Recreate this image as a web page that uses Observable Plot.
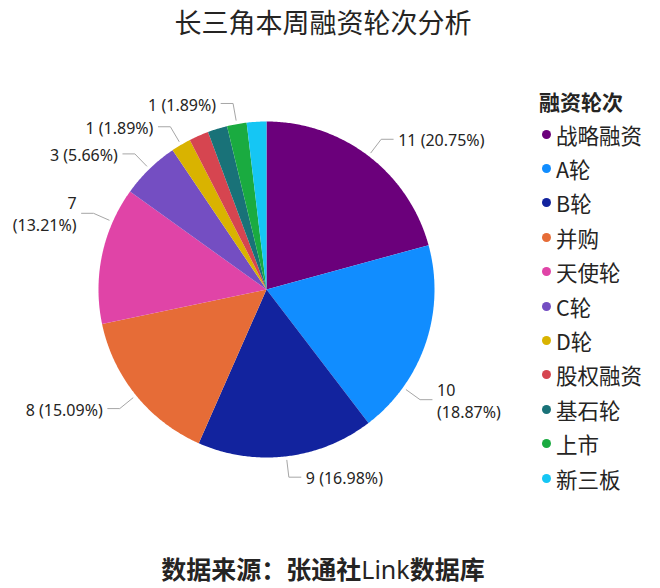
<!DOCTYPE html>
<html><head><meta charset="utf-8">
<script src="https://cdn.jsdelivr.net/npm/d3@7"></script>
<script src="https://cdn.jsdelivr.net/npm/@observablehq/plot@0.6"></script>
<style>
body{margin:0;background:#fff;}
#wrap{position:relative;width:660px;height:588px;overflow:hidden;color:#252423;font-family:"Noto Sans","Noto Sans CJK SC",sans-serif;}
#title{height:50px;line-height:44px;text-align:center;font-size:27px;font-family:"Noto Sans CJK SC",sans-serif;padding-right:14px;}
#chart{height:500px;}
#caption{height:38px;line-height:36px;text-align:center;font-size:25px;font-weight:bold;font-family:"Noto Sans CJK SC",sans-serif;padding-right:14px;}
#caption .lat{font-weight:400;font-family:"Noto Sans",sans-serif;}
#legend{position:absolute;left:539px;top:86px;font-family:"Noto Sans CJK SC",sans-serif;}
#legend .lt{height:31px;line-height:31px;font-size:21px;font-weight:bold;}
#legend .it{height:34.4px;display:flex;align-items:center;font-size:21.5px;white-space:nowrap;}
#legend .dot{width:9px;height:9px;border-radius:50%;margin-left:3px;margin-right:5px;flex:none;}
</style></head><body>
<div id="wrap"><div id="title"></div><div id="chart"></div><div id="caption"></div><div id="legend"></div></div>
<script>
const titleText = "长三角本周融资轮次分析";
const captionParts = ["数据来源：张通社", "Link", "数据库"];
const legendTitle = "融资轮次";
const categories = ["战略融资","A轮","B轮","并购","天使轮","C轮","D轮","股权融资","基石轮","上市","新三板"];
const counts = [11,10,9,8,7,3,1,1,1,1,1];
const colors = ["#6B007B","#118DFF","#12239E","#E66C37","#E044A7","#744EC2","#D9B300","#D64550","#197278","#1AAB40","#15C6F4"];

document.getElementById("title").textContent = titleText;
document.getElementById("caption").innerHTML = captionParts[0] + '<span class="lat">' + captionParts[1] + '</span>' + captionParts[2];

// legend
const lg = document.getElementById("legend");
const lt = document.createElement("div"); lt.className = "lt"; lt.textContent = legendTitle; lg.appendChild(lt);
categories.forEach((c, i) => {
  const row = document.createElement("div"); row.className = "it";
  const dot = document.createElement("span"); dot.className = "dot"; dot.style.background = colors[i];
  const tx = document.createElement("span"); tx.textContent = c;
  row.appendChild(dot); row.appendChild(tx); lg.appendChild(row);
});

// geometry (layout constants)
const W = 660, H = 500, cx = 266, cy = 239, R = 168;
const R0 = R + 4, R1 = R + 21, L2 = 12, GAP = 5;
const FS = 16, LH = 22;
const bounds = {left: 10, right: 512, top: 5, bottom: 495};
const fontStr = FS + "px 'Noto Sans', 'Noto Sans CJK SC', sans-serif";

const total = d3.sum(counts);
const data = categories.map((c, i) => ({cat: c, count: counts[i]}));
const arcs = d3.pie().sort(null).value(d => d.count).startAngle(0).endAngle(2 * Math.PI)(data);

const pt = (a, r) => [cx + r * Math.sin(a), cy - r * Math.cos(a)];

// slice polygons
const slicePts = [];
arcs.forEach(a => {
  const n = Math.max(2, Math.ceil((a.endAngle - a.startAngle) / (Math.PI / 360)));
  slicePts.push({cat: a.data.cat, x: cx, y: cy});
  for (let k = 0; k <= n; k++) {
    const t = a.startAngle + (a.endAngle - a.startAngle) * k / n;
    const [x, y] = pt(t, R);
    slicePts.push({cat: a.data.cat, x, y});
  }
  slicePts.push({cat: a.data.cat, x: cx, y: cy});
});

// label layout
const ctx = document.createElement("canvas").getContext("2d");
ctx.font = fontStr;
const mw = s => ctx.measureText(s).width;
const placed = [];
const overlaps = b => placed.some(p => !(b.x1 <= p.x0 || b.x0 >= p.x1 || b.y1 <= p.y0 || b.y0 >= p.y1));
const order = d3.range(arcs.length).sort((i, j) => d3.descending(counts[i], counts[j]) || i - j);
const labels = [], leaders = [];
for (const i of order) {
  const a = arcs[i];
  const v = String(counts[i]);
  const pc = "(" + (counts[i] / total * 100).toFixed(2) + "%)";
  let done = false;
  for (const f of [0.5, 0.75, 0.25]) {
    if (done) break;
    const t = a.startAngle + f * (a.endAngle - a.startAngle);
    const right = Math.sin(t) >= 0;
    const p0 = pt(t, R0), p1 = pt(t, R1);
    const p2 = [p1[0] + (right ? L2 : -L2), p1[1]];
    const tx = p2[0] + (right ? GAP : -GAP);
    for (const lines of [[v + " " + pc], [v, pc]]) {
      const w = d3.max(lines, mw);
      const h = lines.length * LH;
      const b = {x0: right ? tx : tx - w, x1: right ? tx + w : tx, y0: p1[1] - h / 2, y1: p1[1] + h / 2};
      if (b.x0 < bounds.left || b.x1 > bounds.right || b.y0 < bounds.top || b.y1 > bounds.bottom) continue;
      if (overlaps(b)) continue;
      placed.push(b);
      labels.push({cat: a.data.cat, x: tx, y: p1[1], text: lines.join("\n"), right});
      [p0, p1, p2].forEach(p => leaders.push({cat: a.data.cat, x: p[0], y: p[1]}));
      done = true;
      break;
    }
  }
}

const textOpts = {x: "x", y: "y", text: "text", fontSize: FS, lineHeight: LH / FS, fill: "#252423", fontFamily: "'Noto Sans','Noto Sans CJK SC',sans-serif", lineAnchor: "middle"};

const chart = Plot.plot({
  width: W, height: H,
  margin: 0,
  x: {domain: [0, W], range: [0, W], axis: null},
  y: {domain: [0, H], range: [0, H], axis: null},
  color: {domain: categories, range: colors},
  style: {background: "transparent", overflow: "visible"},
  marks: [
    Plot.line(slicePts, {x: "x", y: "y", z: "cat", fill: "cat", stroke: "none", curve: "linear"}),
    Plot.line(leaders, {x: "x", y: "y", z: "cat", stroke: "#A6A6A6", strokeWidth: 1}),
    Plot.text(labels.filter(d => d.right), {...textOpts, textAnchor: "start"}),
    Plot.text(labels.filter(d => !d.right), {...textOpts, textAnchor: "end"})
  ]
});
document.getElementById("chart").appendChild(chart);
</script>
</body></html>
